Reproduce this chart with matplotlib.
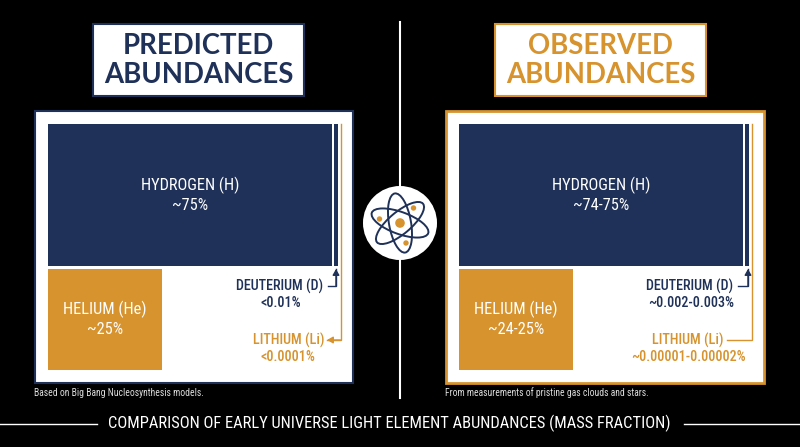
import matplotlib
matplotlib.use("Agg")
import matplotlib.pyplot as plt
from matplotlib.patches import Rectangle, Ellipse, Circle

NARROW = ['Roboto Condensed', 'Archivo Narrow', 'Roboto', 'DejaVu Sans']
TITLE = ['Lato', 'DejaVu Sans']

NAVY = '#1F3158'
ORANGE = '#D6932E'

titles = [["PREDICTED", "ABUNDANCES"], ["OBSERVED", "ABUNDANCES"]]
element_names = ["HYDROGEN (H)", "HELIUM (He)", "DEUTERIUM (D)", "LITHIUM (Li)"]
predicted_values = ["~75%", "~25%", "<0.01%", "<0.0001%"]
observed_values = ["~74-75%", "~24-25%", "~0.002-0.003%", "~0.00001-0.00002%"]
footnotes = ["Based on Big Bang Nucleosynthesis models.",
             "From measurements of pristine gas clouds and stars."]
caption = "COMPARISON OF EARLY UNIVERSE LIGHT ELEMENT ABUNDANCES (MASS FRACTION)"

fig = plt.figure(figsize=(8, 4.47), dpi=100, facecolor='black')
ax = fig.add_axes([0, 0, 1, 1])
ax.set_xlim(0, 800)
ax.set_ylim(447, 0)
ax.axis('off')


def rect(x0, y0, x1, y1, fc, ec='none', lw=0, z=2):
    ax.add_patch(Rectangle((x0, y0), x1 - x0, y1 - y0, facecolor=fc, edgecolor=ec, linewidth=lw, zorder=z))


def label(x, y, s, color, size, weight='medium', family=NARROW, ha='center'):
    ax.text(x, y, s, color=color, fontsize=size, fontweight=weight, family=family,
            ha=ha, va='center', zorder=6)


def panel(dx, values, color, border_lw, title, foot, box_x):
    rect(box_x, 23.5, box_x + 211, 95.5, 'white', color, 1.5)
    label(box_x + 106, 46, title[0], color, 19.8, 'bold', TITLE)
    label(box_x + 106, 75, title[1], color, 19.8, 'bold', TITLE)
    rect(35 + dx, 111, 353 + dx, 383, 'white', color, border_lw)
    rect(48 + dx, 124, 332.3 + dx, 266, NAVY, z=3)
    rect(334 + dx, 124, 337.5 + dx, 266, NAVY, z=3)
    rect(48 + dx, 269, 162 + dx, 370, ORANGE, z=3)
    label(190 + dx, 185, element_names[0], 'white', 11.8, 'normal')
    label(190 + dx, 205, values[0], 'white', 11.8, 'normal')
    label(105 + dx, 309, element_names[1], 'white', 11.8, 'normal')
    label(105 + dx, 329, values[1], 'white', 11.8, 'normal')
    ax.text(34 + dx, 393, foot, color='#dddddd', fontsize=6.9, family=NARROW, ha='left', va='center')


panel(0, predicted_values, NAVY, 1.5, titles[0], footnotes[0], 92.5)
panel(411, observed_values, ORANGE, 2, titles[1], footnotes[1], 494.5)

# small-element labels, left
label(280, 286, element_names[2], NAVY, 10.2)
label(281, 303, predicted_values[2], NAVY, 10.2)
label(289, 340, element_names[3], ORANGE, 10.2)
label(288, 357, predicted_values[3], ORANGE, 10.2)
# small-element labels, right
label(690, 286, element_names[2], NAVY, 10.2)
label(691, 303, observed_values[2], NAVY, 10.2)
label(688, 340, element_names[3], ORANGE, 10.2)
label(688, 357, observed_values[3], ORANGE, 10.2)


def leader(xs, ys, color, arrow=True, lw=1.0):
    ax.plot(xs, ys, color=color, lw=lw, solid_joinstyle='miter', zorder=4)
    if arrow:
        ax.annotate('', xy=(xs[-1], ys[-1]), xytext=(xs[-2], ys[-2]), zorder=5,
                    arrowprops=dict(arrowstyle='-|>,head_width=0.2,head_length=0.35', color=color,
                                    lw=lw, shrinkA=0, shrinkB=0))


leader([328, 336, 336], [286, 286, 269], NAVY)
leader([340.5, 340.5, 327], [124, 340, 340], ORANGE)
leader([738, 748, 748], [286, 286, 269], NAVY)
leader([752, 752, 727], [124, 340, 340], ORANGE, arrow=False)

# centre divider and atom icon
ax.plot([400, 400], [22, 398], color='white', lw=1.5, zorder=1)
ax.add_patch(Circle((400, 223), 37, facecolor='white', edgecolor='none', zorder=6))
for ang in (80, 20, 140):
    ax.add_patch(Ellipse((400, 223), 60, 22, angle=ang, facecolor='none', edgecolor=NAVY, lw=1.4, zorder=7))
ax.add_patch(Circle((400, 223), 4.8, facecolor=ORANGE, edgecolor='none', zorder=8))
for cx, cy in [(413.5, 208), (379.5, 219), (406, 243)]:
    ax.add_patch(Circle((cx, cy), 2.7, facecolor=ORANGE, edgecolor='none', zorder=8))

# caption
label(389.5, 423, caption, 'white', 11.9, 'normal')
ax.plot([0, 97], [424, 424], color='white', lw=1.0)
ax.plot([684, 800], [424, 424], color='white', lw=1.0)

fig.savefig('out.png', dpi=100, facecolor='black')
